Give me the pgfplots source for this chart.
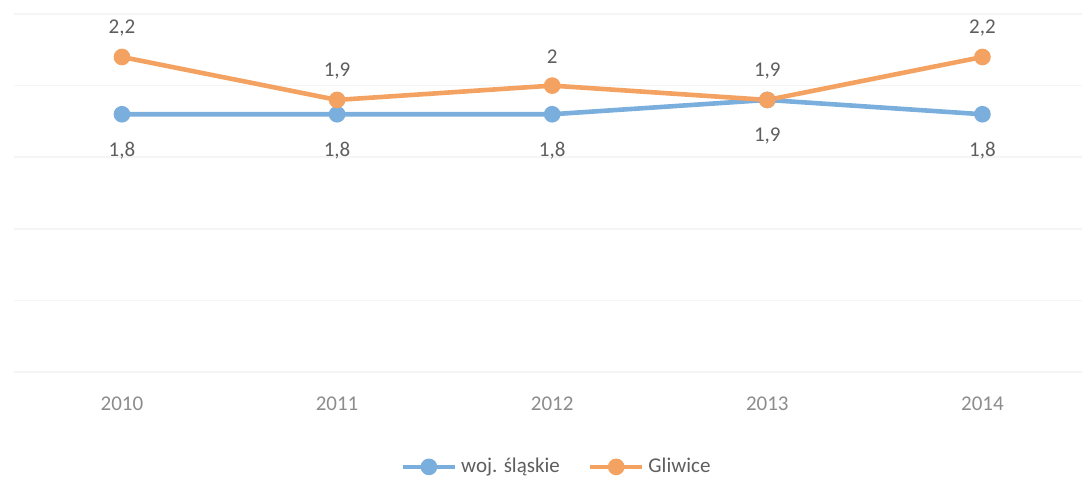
\documentclass[border=0pt]{standalone}
\usepackage{pgfplots}
\pgfplotsset{compat=1.18}
\usepackage{fontspec}
\setmainfont{Carlito}

\definecolor{wojblue}{HTML}{7AAEDD}
\definecolor{gliwiceorange}{HTML}{F4A261}
\definecolor{labelgray}{HTML}{5E5E5E}
\definecolor{tickgray}{HTML}{8C8C8C}

\begin{document}
\begin{tikzpicture}[x=1pt,y=1pt]
\useasboundingbox (0,0) rectangle (541,239.5);
\begin{axis}[
    at={(7.2pt,53.5pt)}, anchor=south west,
    width=537.8pt, height=179pt, scale only axis,
    xmin=-0.5, xmax=4.5, ymin=0, ymax=2.5,
    xtick={0,1,2,3,4}, xticklabels={2010,2011,2012,2013,2014},
    ytick={0,0.5,1,1.5,2,2.5}, yticklabels={},
    ymajorgrids, grid style={black!4, line width=0.8pt},
    axis line style={draw=none}, major tick length=0pt,
    tick label style={font=\fontsize{10.5}{12}\selectfont, text=tickgray},
    xticklabel style={yshift=-9pt},
    clip=false,
    /pgf/number format/.cd, use comma, fixed, precision=1, assume math mode=true, /pgfplots/.cd,
    legend style={at={(0.505,-0.265)}, anchor=center, draw=none, fill=none,
      font=\fontsize{10.5}{12}\selectfont, text=labelgray,
      /tikz/every even column/.append style={column sep=12pt}},
    legend columns=2,
    legend image code/.code={\draw[mark repeat=2,mark phase=2,#1] plot coordinates {(0pt,0pt) (13pt,0pt) (26pt,0pt)};},
  ]
  \addplot[wojblue, line width=2.3pt, mark=*, mark size=3pt,
    nodes near coords,
    every node near coord/.style={anchor=center, yshift=-18pt, text=labelgray, font=\fontsize{10.5}{12}\selectfont}]
    coordinates {(0,1.8) (1,1.8) (2,1.8) (3,1.9) (4,1.8)};
  \addlegendentry{woj. śląskie}
  \addplot[gliwiceorange, line width=2.3pt, mark=*, mark size=3pt,
    nodes near coords,
    every node near coord/.style={anchor=center, yshift=14.5pt, text=labelgray, font=\fontsize{10.5}{12}\selectfont}]
    coordinates {(0,2.2) (1,1.9) (2,2.0) (3,1.9) (4,2.2)};
  \addlegendentry{Gliwice}
\end{axis}
\end{tikzpicture}
\end{document}
